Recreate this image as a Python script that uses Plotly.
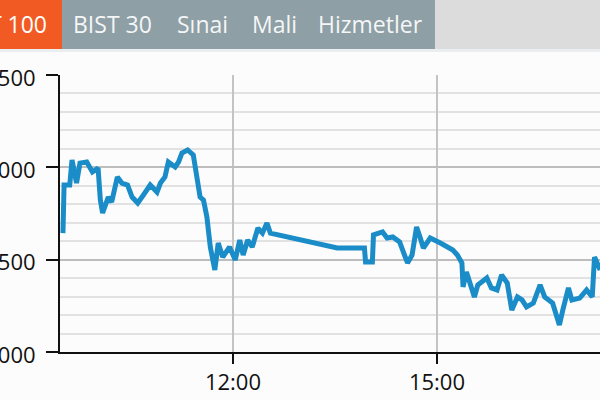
import plotly.graph_objects as go

# ---- data ----
times = ["09:30","09:31","09:36","09:38","09:42","09:45","09:51","09:56","10:01","10:03",
         "10:05","10:10","10:13","10:18","10:22","10:27","10:31","10:36","10:41","10:47",
         "10:53","10:56","11:00","11:03","11:09","11:12","11:15","11:20","11:25","11:28",
         "11:31","11:34","11:37","11:40","11:42","11:44","11:47","11:51","11:57","12:02",
         "12:06","12:09","12:13","12:17","12:22","12:26","12:30","12:33","13:32","13:56",
         "13:57","14:03","14:04","14:10","14:12","14:16","14:21","14:27","14:32","14:34",
         "14:38","14:42","14:45","14:48","14:51","14:54","15:03","15:14","15:18","15:22",
         "15:23","15:26","15:33","15:36","15:44","15:48","15:53","15:57","16:02","16:06",
         "16:11","16:15","16:19","16:25","16:31","16:35","16:42","16:48","16:51","16:56",
         "16:59","17:06","17:12","17:17","17:19","17:24"]
values = [644,904,904,1040,915,1023,1029,975,996,823,
          753,839,812,948,915,904,839,807,850,904,
          866,915,948,1029,1002,1029,1078,1094,1067,969,
          839,823,731,569,498,444,590,514,569,498,
          606,525,606,569,671,644,699,644,563,563,
          487,487,634,644,650,617,623,596,509,482,
          525,677,623,563,590,617,590,552,525,482,
          352,433,298,363,401,347,336,417,374,227,
          298,282,244,265,363,298,265,146,227,347,
          282,292,336,298,514,444]
day = "2024-01-02 "
x_vals = [day + t for t in times]

tick_vals = [0, 500, 1000, 1500]
tick_text = ["000", "500", "000", "500"]
tabs = ["BIST 30", "Sınai", "Mali", "Hizmetler"]
tab_x = [71, 175, 250, 316]

# ---- layout helpers (pixel -> paper) ----
L, R, T, B = 60, 600, 75, 352
def px(x):
    return (x - L) / (R - L)
def py(y):
    return (B - y) / (B - T)

FONT = "Open Sans"
fig = go.Figure()
fig.add_trace(go.Scatter(x=x_vals, y=values, mode="lines",
                         line=dict(color="#1a8cc8", width=5), hoverinfo="skip"))

shapes = [
    dict(type="rect", xref="paper", yref="paper", x0=px(-2), x1=px(62), y0=py(49), y1=py(-2),
         fillcolor="#f15a22", line=dict(width=0), layer="above"),
    dict(type="rect", xref="paper", yref="paper", x0=px(62), x1=px(435), y0=py(49), y1=py(-2),
         fillcolor="#8e9fa5", line=dict(width=0), layer="above"),
    dict(type="rect", xref="paper", yref="paper", x0=px(435), x1=px(602), y0=py(49), y1=py(-2),
         fillcolor="#dcdcdc", line=dict(width=0), layer="above"),
    dict(type="rect", xref="paper", yref="paper", x0=px(-2), x1=px(602), y0=py(52), y1=py(49),
         fillcolor="#eaeef0", line=dict(width=0), layer="above"),
]
annotations = [dict(text="BIST 100", xref="paper", yref="paper", x=px(49), y=py(24),
                    xanchor="right", yanchor="middle", showarrow=False,
                    font=dict(family=FONT, size=23, color="white"))]
for t, xp in zip(tabs, tab_x):
    annotations.append(dict(text=t, xref="paper", yref="paper", x=px(xp), y=py(24),
                            xanchor="left", yanchor="middle", showarrow=False,
                            font=dict(family=FONT, size=23, color="#f4f6f7")))

fig.update_layout(
    width=600, height=400,
    margin=dict(l=L, r=600 - R, t=T, b=400 - B, autoexpand=False),
    paper_bgcolor="#fcfcfc", plot_bgcolor="#fcfcfc",
    showlegend=False,
    shapes=shapes, annotations=annotations,
    font=dict(family=FONT, size=22, color="#111111"),
    xaxis=dict(type="date", range=[day + "09:27:24", day + "17:23:50"],
               tick0=day + "00:00", dtick=3 * 3600 * 1000, tickformat="%H:%M",
               showgrid=True, gridcolor="#c4c4c4", gridwidth=2,
               showline=True, linecolor="#111111", linewidth=2,
               ticks="outside", ticklen=10, tickwidth=2, tickcolor="#111111",
               zeroline=False, automargin=False,
               tickfont=dict(family=FONT, size=22, color="#111111")),
    yaxis=dict(range=[0, 1500], tickmode="array", tickvals=tick_vals, ticktext=tick_text,
               showgrid=True, gridcolor="#bdbdbd", gridwidth=2,
               minor=dict(tickmode="linear", tick0=0, dtick=100, showgrid=True,
                          gridcolor="#e2e2e2", gridwidth=2, ticks=""),
               showline=True, linecolor="#111111", linewidth=2,
               ticks="outside", ticklen=12, tickwidth=2, tickcolor="#111111",
               zeroline=False, automargin=False, ticklabelstandoff=6,
               ticklabelshift=3,
               tickfont=dict(family=FONT, size=22, color="#111111")),
)
fig.write_html("out.html", config={"displayModeBar": False, "staticPlot": True},
               post_script="document.body.style.margin='0';document.body.style.overflow='hidden';")
